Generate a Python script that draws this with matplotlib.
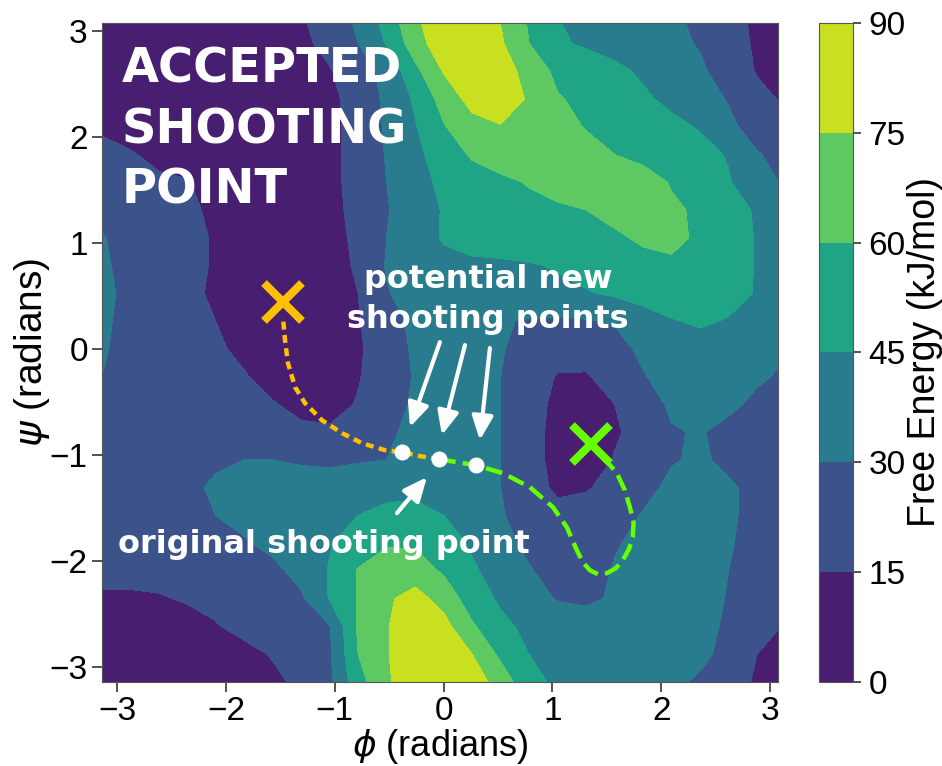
import numpy as np
import matplotlib.pyplot as plt

# dihedral grid, 15 degree spacing
phi = np.linspace(-np.pi, np.pi, 25)
psi = np.linspace(-np.pi, np.pi, 25)

# free energy in kJ/mol, one row per psi value, listed from psi = +pi down to -pi
fe_rows = [
    [5, 5, 4, 3, 3, 4, 7, 14, 22, 33, 52, 73, 86, 87, 74, 58, 45, 42, 39, 36, 32, 27, 20, 12, 7],
    [5, 5, 4, 3, 3, 4, 7, 12, 19, 30, 46, 68, 85, 88, 77, 60, 47, 43, 40, 37, 33, 29, 21, 13, 8],
    [5, 5, 4, 3, 3, 3, 5, 9, 14, 24, 34, 56, 76, 85, 84, 68, 57, 53, 48, 43, 38, 32, 24, 14, 9],
    [6, 5, 4, 3, 3, 3, 5, 8, 12, 20, 33, 47, 66, 80, 85, 73, 61, 57, 53, 47, 42, 36, 29, 19, 13],
    [13, 10, 7, 4, 3, 3, 5, 8, 12, 19, 32, 44, 59, 70, 74, 70, 66, 59, 55, 52, 48, 44, 33, 24, 18],
    [19, 16, 12, 8, 4, 3, 5, 8, 12, 19, 31, 42, 51, 62, 67, 68, 68, 66, 60, 56, 53, 49, 44, 31, 25],
    [22, 20, 17, 16, 8, 4, 4, 7, 12, 19, 30, 40, 48, 53, 57, 61, 65, 67, 68, 66, 59, 55, 46, 36, 28],
    [26, 22, 19, 17, 13, 6, 4, 6, 11, 19, 29, 38, 46, 50, 53, 56, 58, 60, 64, 66, 62, 58, 52, 43, 30],
    [31, 25, 21, 18, 14, 7, 4, 6, 10, 18, 30, 39, 46, 49, 51, 53, 54, 56, 58, 62, 63, 58, 52, 44, 38],
    [32, 26, 21, 18, 14, 6, 3, 5, 9, 17, 31, 37, 42, 43, 43, 44, 46, 50, 53, 56, 58, 56, 52, 44, 38],
    [34, 26, 21, 18, 13, 6, 3, 4, 8, 15, 29, 36, 39, 40, 40, 41, 42, 44, 47, 51, 54, 53, 50, 44, 38],
    [33, 25, 20, 17, 15, 8, 4, 4, 7, 14, 25, 33, 37, 37, 31, 29, 28, 29, 31, 38, 44, 47, 44, 40, 36],
    [32, 24, 20, 18, 17, 12, 6, 5, 7, 13, 23, 32, 36, 36, 31, 25, 21, 20, 25, 33, 38, 39, 37, 33, 31],
    [30, 24, 21, 19, 18, 16, 10, 6, 8, 14, 23, 31, 35, 35, 30, 23, 14, 14, 20, 29, 36, 38, 35, 32, 28],
    [26, 24, 22, 21, 20, 19, 16, 11, 10, 16, 24, 32, 35, 34, 30, 22, 11, 8, 15, 24, 32, 37, 33, 27, 25],
    [25, 24, 23, 22, 22, 21, 20, 18, 17, 20, 28, 33, 35, 34, 30, 21, 10, 6, 13, 21, 29, 31, 26, 22, 21],
    [24, 24, 24, 26, 28, 30, 30, 29, 28, 29, 30, 34, 36, 35, 30, 21, 10, 7, 16, 23, 29, 32, 27, 23, 22],
    [23, 23, 24, 27, 32, 34, 34, 34, 35, 37, 39, 40, 39, 37, 30, 22, 12, 14, 19, 26, 33, 36, 32, 26, 24],
    [22, 22, 23, 25, 30, 33, 36, 39, 42, 45, 50, 51, 45, 40, 31, 25, 20, 20, 24, 31, 36, 37, 32, 26, 24],
    [21, 21, 21, 22, 25, 29, 33, 38, 44, 52, 58, 58, 52, 43, 34, 27, 22, 22, 29, 33, 37, 37, 31, 26, 24],
    [19, 19, 19, 20, 22, 25, 27, 34, 46, 61, 70, 68, 58, 47, 39, 31, 25, 24, 31, 34, 37, 36, 30, 25, 23],
    [13, 13, 14, 16, 19, 22, 25, 28, 46, 61, 73, 80, 70, 52, 43, 36, 29, 27, 32, 36, 38, 36, 29, 24, 22],
    [8, 9, 10, 11, 14, 19, 22, 26, 29, 62, 74, 85, 80, 62, 48, 42, 40, 38, 38, 38, 37, 34, 28, 20, 14],
    [6, 6, 7, 8, 9, 11, 16, 21, 28, 60, 74, 85, 86, 75, 57, 45, 42, 40, 39, 38, 36, 33, 26, 15, 10],
    [5, 5, 5, 6, 7, 9, 12, 18, 27, 54, 73, 84, 88, 84, 68, 50, 42, 41, 39, 36, 33, 28, 22, 13, 9],
]
free_energy = np.array(fe_rows[::-1], dtype=float)

levels = [0, 15, 30, 45, 60, 75, 90]

# backward half of the trial path (shooting point -> first basin)
back_phi = [-0.043, -0.218, -0.383, -0.539, -0.751, -0.934, -1.118, -1.274, -1.365, -1.430, -1.457, -1.476]
back_psi = [-1.041, -1.012, -0.975, -0.956, -0.890, -0.795, -0.673, -0.512, -0.361, -0.135, 0.08, 0.30]

# forward half (shooting point -> second basin)
fwd_phi = [-0.043, 0.297, 0.545, 0.792, 1.004, 1.132, 1.224, 1.279, 1.343, 1.417, 1.500,
           1.582, 1.646, 1.702, 1.738, 1.745, 1.711, 1.665, 1.592, 1.435, 1.353]
fwd_psi = [-1.041, -1.098, -1.173, -1.305, -1.493, -1.682, -1.899, -2.012, -2.088, -2.125, -2.116,
           -2.069, -1.993, -1.890, -1.776, -1.635, -1.493, -1.334, -1.173, -0.984, -0.90]

# basin end points
end_a = (-1.476, 0.44)
end_b = (1.353, -0.90)

# candidate shooting points along the path
dots_phi = [-0.383, -0.043, 0.297]
dots_psi = [-0.975, -1.041, -1.098]

# arrows: (tail, head)
new_arrows = [((-0.034, 0.063), (-0.309, -0.738)),
              ((0.196, 0.035), (-0.016, -0.814)),
              ((0.425, 0.007), (0.333, -0.861))]
orig_arrow = ((-0.429, -1.550), (-0.153, -1.210))

plt.rcParams['font.family'] = ['Liberation Sans', 'DejaVu Sans']

fig = plt.figure(figsize=(9.42, 7.66), dpi=100)
ax = fig.add_axes([0.1079, 0.1097, 0.7180, 0.8603])
cax = fig.add_axes([0.8694, 0.1097, 0.0361, 0.8603])

cs = ax.contourf(phi, psi, free_energy, levels=levels, cmap='viridis')
ax.set_xlim(-np.pi, np.pi - 2 * np.pi / 90)
ax.set_ylim(-np.pi, np.pi - 2 * np.pi / 90)

# paths
ax.plot(back_phi, back_psi, color='#ffc000', lw=3.2, linestyle=(0, (1.8, 1.2)),
        dash_capstyle='butt', zorder=3)
ax.plot(fwd_phi, fwd_psi, color='#66ff00', lw=3.2, linestyle=(0, (3.8, 1.6)),
        dash_capstyle='butt', zorder=3)
ax.plot(*end_a, marker='x', ms=27, mew=5.8, color='#ffc000', zorder=5)
ax.plot(*end_b, marker='x', ms=27, mew=5.8, color='#66ff00', zorder=5)
ax.plot(dots_phi, dots_psi, 'o', ms=10.5, color='white', mec='white', zorder=6)

arrow_kw = dict(arrowstyle='-|>,head_length=0.9,head_width=0.4', color='white',
                lw=3, shrinkA=0, shrinkB=0, mutation_scale=16)
for tail, head in new_arrows + [orig_arrow]:
    ax.annotate('', xy=head, xytext=tail, arrowprops=arrow_kw, zorder=6)

bold = dict(color='white', fontweight='bold', family='DejaVu Sans')
ax.text(-2.954, 2.86, 'ACCEPTED\nSHOOTING\nPOINT', fontsize=34.5, ha='left', va='top',
        linespacing=1.37, **bold)
ax.text(0.406, 0.80, 'potential new\nshooting points', fontsize=23, ha='center', va='top',
        linespacing=1.37, multialignment='center', **bold)
ax.text(-1.103, -1.927, 'original shooting point', fontsize=23, ha='center',
        va='baseline', **bold)

ticks = [-3, -2, -1, 0, 1, 2, 3]
ax.set_xticks(ticks)
ax.set_yticks(ticks)
ax.tick_params(labelsize=24, length=7, width=1.2, color='#333333', pad=3)
ax.set_xlabel(r'$\phi$ (radians)', fontsize=26)
ax.set_ylabel(r'$\psi$ (radians)', fontsize=28)
ax.xaxis.set_label_coords(0.5, -0.069)
ax.yaxis.set_label_coords(-0.073, 0.5)
for s in ax.spines.values():
    s.set_color('#555555')
    s.set_linewidth(0.8)

cb = fig.colorbar(cs, cax=cax, ticks=levels)
cb.ax.tick_params(labelsize=24, length=6, width=1.2, color='#333333', pad=5)
cb.outline.set_edgecolor('#555555')
cb.outline.set_linewidth(0.8)
cb.set_label('Free Energy (kJ/mol)', fontsize=27, labelpad=1)

fig.savefig('out.png', dpi=100)
